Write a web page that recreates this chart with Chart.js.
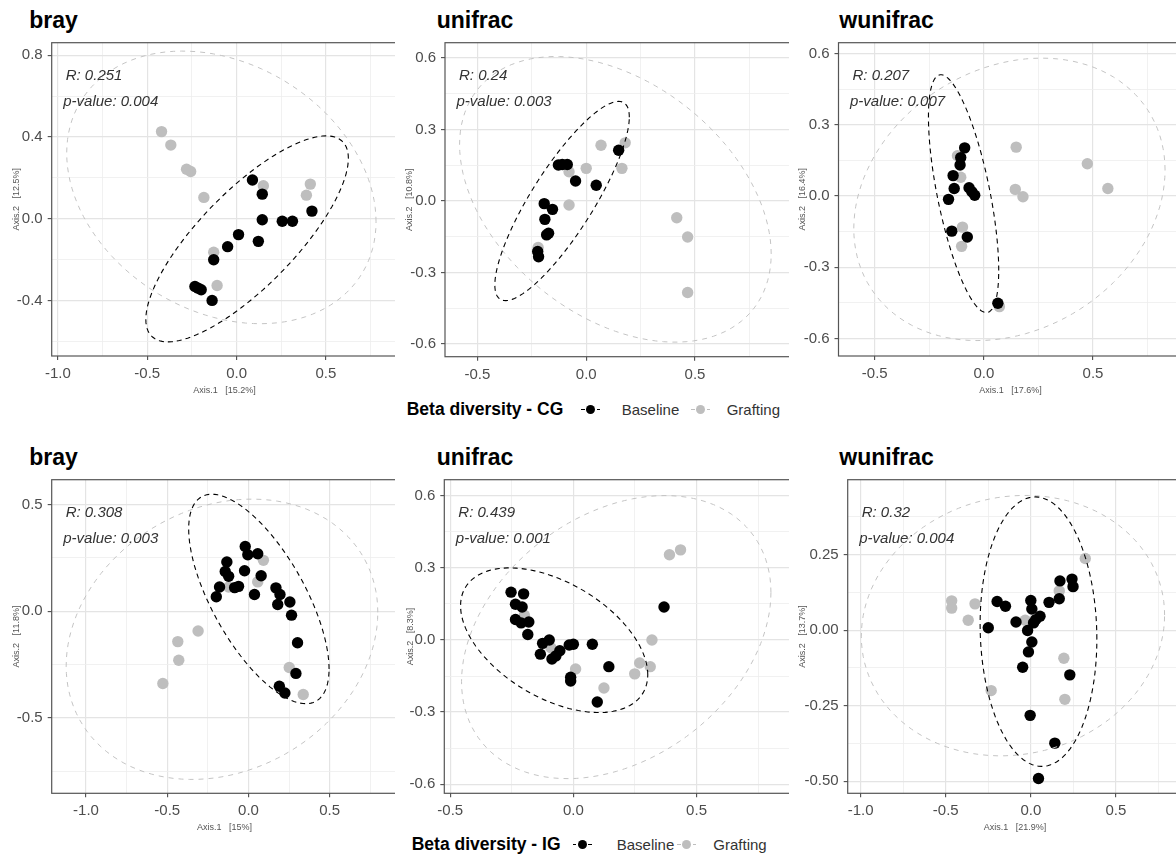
<!DOCTYPE html>
<html>
<head>
<meta charset="utf-8">
<title>Beta diversity</title>
<script src="https://cdn.jsdelivr.net/npm/chart.js@4.4.1/dist/chart.umd.min.js"></script>
<style>
  html, body { margin: 0; padding: 0; background: #fff; }
  body {
    width: 1176px; height: 855px; position: relative; overflow: hidden;
    font-family: "Liberation Sans", Arial, sans-serif;
  }
  .clip { position: absolute; overflow: hidden; }
  .clip canvas { position: absolute; left: 0; top: 0; }
  .txt { position: absolute; white-space: pre; }
  .key { position: absolute; width: 19px; height: 10px; }
  .key .dash { position: absolute; top: 4.4px; height: 1.3px; width: 3.5px; }
  .key .dot { position: absolute; left: 5px; top: 0; width: 9px; height: 9px; border-radius: 50%; }
</style>
</head>
<body>
<script>
// ---- ordination scores (Axis.1, Axis.2) ----
const brayCgBaseline = [[0.089,0.189],[0.144,0.120],[0.144,-0.005],[0.256,-0.013],[0.313,-0.013],[0.422,0.037],[0.011,-0.078],[0.122,-0.111],[-0.050,-0.137],[-0.128,-0.201],[-0.233,-0.332],[-0.198,-0.348],[-0.215,-0.340],[-0.137,-0.400]];
const brayCgGrafting = [[-0.420,0.426],[-0.368,0.360],[-0.280,0.242],[-0.257,0.231],[-0.183,0.104],[0.150,0.161],[0.413,0.169],[0.391,0.115],[-0.128,-0.164],[-0.109,-0.327]];

const unifracCgBaseline = [[0.149,0.213],[-0.128,0.151],[-0.110,0.153],[-0.087,0.153],[-0.049,0.084],[0.046,0.066],[-0.193,-0.011],[-0.155,-0.035],[-0.190,-0.077],[-0.173,-0.135],[-0.182,-0.142],[-0.223,-0.212],[-0.219,-0.234]];
const unifracCgGrafting = [[0.068,0.234],[0.179,0.244],[0.164,0.137],[0.000,0.137],[-0.079,0.123],[-0.079,-0.017],[0.416,-0.070],[0.466,-0.151],[0.466,-0.384],[-0.221,-0.195]];

const wunifracCgBaseline = [[-0.088,0.203],[-0.106,0.162],[-0.109,0.131],[-0.141,0.086],[-0.136,0.032],[-0.162,-0.014],[-0.068,0.035],[-0.042,0.003],[-0.055,0.018],[-0.147,-0.148],[-0.076,-0.173],[0.064,-0.452]];
const wunifracCgGrafting = [[0.148,0.206],[0.474,0.136],[0.568,0.032],[0.144,0.028],[0.179,-0.003],[-0.121,0.170],[-0.106,0.079],[-0.098,-0.131],[-0.102,-0.212],[0.071,-0.466]];

const brayIgBaseline = [[-0.020,0.303],[-0.004,0.264],[0.057,0.269],[-0.133,0.230],[-0.143,0.186],[-0.122,0.163],[-0.024,0.189],[0.078,0.166],[-0.178,0.113],[-0.198,0.067],[-0.061,0.116],[-0.085,0.110],[0.037,0.078],[0.169,0.109],[0.194,0.078],[0.180,0.031],[0.255,0.043],[0.265,-0.019],[0.302,-0.148],[0.292,-0.292],[0.190,-0.352],[0.224,-0.384]];
const brayIgGrafting = [[0.092,0.238],[0.057,0.137],[-0.122,0.113],[-0.310,-0.093],[-0.435,-0.143],[-0.429,-0.230],[-0.527,-0.339],[0.251,-0.264],[0.337,-0.391]];

const unifracIgBaseline = [[-0.253,0.199],[-0.202,0.192],[-0.235,0.149],[-0.208,0.137],[-0.235,0.085],[-0.212,0.071],[-0.181,0.075],[-0.185,0.023],[-0.125,-0.014],[-0.098,0.000],[-0.134,-0.059],[-0.087,-0.079],[-0.071,-0.066],[-0.055,-0.045],[-0.017,-0.021],[0.000,-0.018],[0.077,-0.018],[0.144,-0.111],[-0.011,-0.155],[-0.011,-0.171],[0.097,-0.258],[0.368,0.137]];
const unifracIgGrafting = [[0.390,0.355],[0.435,0.375],[0.319,0.000],[0.269,-0.096],[0.312,-0.111],[0.249,-0.141],[0.124,-0.200],[0.009,-0.121],[-0.091,-0.032],[-0.199,0.103]];

const wunifracIgBaseline = [[0.171,0.163],[0.242,0.169],[0.248,0.144],[-0.198,0.095],[-0.149,0.079],[0.000,0.098],[0.006,0.070],[0.054,0.046],[0.029,0.035],[0.107,0.092],[0.167,0.104],[-0.087,0.027],[0.016,0.024],[-0.250,0.008],[-0.019,-0.001],[0.006,-0.039],[-0.014,-0.072],[-0.048,-0.123],[0.229,-0.148],[-0.004,-0.282],[0.141,-0.374],[0.045,-0.491]];
const wunifracIgGrafting = [[0.320,0.237],[0.167,0.130],[-0.465,0.097],[-0.465,0.073],[-0.328,0.087],[-0.368,0.033],[-0.033,0.033],[0.194,-0.093],[0.200,-0.229],[-0.233,-0.200]];

// ---- group ellipses: [centre x, centre y, half width, half height, x offset of top point] ----
const brayCgEllipses = { base: [0.059,-0.099,0.567,0.504,0.443], graft: [-0.085,0.153,0.866,0.667,-0.218] };
const unifracCgEllipses = { base: [-0.111,0.000,0.309,0.418,0.260], graft: [0.134,0.007,0.716,0.599,-0.274] };
const wunifracCgEllipses = { base: [-0.093,0.010,0.161,0.501,-0.104], graft: [0.117,-0.014,0.713,0.595,0.148] };
const brayIgEllipses = { base: [0.064,0.057,0.432,0.491,-0.289], graft: [-0.163,-0.132,0.959,0.657,0.184] };
const unifracIgEllipses = { base: [-0.078,-0.001,0.380,0.301,-0.181], graft: [0.174,0.012,0.628,0.589,0.198] };
const wunifracIgEllipses = { base: [0.045,-0.005,0.343,0.446,-0.019], graft: [-0.105,0.015,0.891,0.431,0.072] };

// ---- ANOSIM results ----
const statsR = ['0.251', '0.24', '0.207', '0.308', '0.439', '0.32'];
const statsP = ['0.004', '0.003', '0.007', '0.003', '0.001', '0.004'];

// ---- axis tick labels ----
const ticksX1 = ['-1.0', '-0.5', '0.0', '0.5'];
const ticksX2 = ['-0.5', '0.0', '0.5'];
const ticksYBrayCg = ['-0.4', '0.0', '0.4', '0.8'];
const ticksYUnifrac = ['-0.6', '-0.3', '0.0', '0.3', '0.6'];
const ticksYBrayIg = ['-0.5', '0.0', '0.5'];
const ticksYWunifracIg = ['-0.50', '-0.25', '0.00', '0.25'];

const BLACK = '#000000';
const GREY = '#bebebe';
const FONT = '"Liberation Sans", Arial, sans-serif';

// panel layout in page pixels
const panels = [
  { title: 'bray', base: brayCgBaseline, graft: brayCgGrafting, ell: brayCgEllipses, stat: 0,
    xTicks: ticksX1, yTicks: ticksYBrayCg, x: [-1.035, 0.9], y: [-0.672, 0.861],
    xTitle: 'Axis.1   [15.2%]', yTitle: 'Axis.2   [12.5%]',
    box: { l: 51.7, t: 40.7, r: 400, b: 356 }, clipR: 395, yTitleX: 16.7, titleX: 29.3, titleY: 28.8 },
  { title: 'unifrac', base: unifracCgBaseline, graft: unifracCgGrafting, ell: unifracCgEllipses, stat: 1,
    xTicks: ticksX2, yTicks: ticksYUnifrac, x: [-0.649, 0.97], y: [-0.653, 0.664],
    xTitle: null, yTitle: 'Axis.2   [10.8%]',
    box: { l: 445, t: 40.7, r: 800, b: 356.7 }, clipR: 789, yTitleX: 409.2, titleX: 436.7, titleY: 28.8 },
  { title: 'wunifrac', base: wunifracCgBaseline, graft: wunifracCgGrafting, ell: wunifracCgEllipses, stat: 2,
    xTicks: ticksX2, yTicks: ticksYUnifrac, x: [-0.666, 0.909], y: [-0.674, 0.646],
    xTitle: 'Axis.1   [17.6%]', yTitle: 'Axis.2   [16.4%]',
    box: { l: 838.5, t: 40.7, r: 1185, b: 356 }, clipR: 1176, yTitleX: 802.5, titleX: 839.3, titleY: 28.8 },
  { title: 'bray', base: brayIgBaseline, graft: brayIgGrafting, ell: brayIgEllipses, stat: 3,
    xTicks: ticksX1, yTicks: ticksYBrayIg, x: [-1.211, 0.916], y: [-0.854, 0.616],
    xTitle: 'Axis.1   [15%]', yTitle: 'Axis.2   [11.8%]',
    box: { l: 51.7, t: 477.7, r: 400, b: 793.3 }, clipR: 395, yTitleX: 16.7, titleX: 29.3, titleY: 465 },
  { title: 'unifrac', base: unifracIgBaseline, graft: unifracIgGrafting, ell: unifracIgEllipses, stat: 4,
    xTicks: ticksX2, yTicks: ticksYUnifrac, x: [-0.524, 0.909], y: [-0.638, 0.667],
    xTitle: null, yTitle: 'Axis.2   [8.3%]',
    box: { l: 444.3, t: 477.7, r: 800, b: 793.3 }, clipR: 789, yTitleX: 410.3, titleX: 436.7, titleY: 465 },
  { title: 'wunifrac', base: wunifracIgBaseline, graft: wunifracIgGrafting, ell: wunifracIgEllipses, stat: 5,
    xTicks: ticksX1, yTicks: ticksYWunifracIg, x: [-1.076, 0.89], y: [-0.540, 0.498],
    xTitle: 'Axis.1   [21.9%]', yTitle: 'Axis.2   [13.7%]',
    box: { l: 847.7, t: 477.7, r: 1185, b: 793.3 }, clipR: 1176, yTitleX: 802.8, titleX: 839.3, titleY: 465 }
];

// text placed by its baseline (line-height equal to font size)
function addText(str, x, baseline, size, opts = {}) {
  const d = document.createElement('div');
  d.className = 'txt';
  d.textContent = str;
  d.style.left = x + 'px';
  d.style.top = (baseline - 0.8465 * size) + 'px';
  d.style.fontSize = size + 'px';
  d.style.lineHeight = size + 'px';
  d.style.fontWeight = opts.bold ? 'bold' : 'normal';
  d.style.color = opts.color || '#000';
  document.body.appendChild(d);
}

function addKey(cx, cy, color) {
  const k = document.createElement('div');
  k.className = 'key';
  k.style.left = (cx - 9.5) + 'px';
  k.style.top = (cy - 4.5) + 'px';
  k.innerHTML = '<div class="dash" style="left:0"></div><div class="dot"></div><div class="dash" style="left:15.5px"></div>';
  k.querySelectorAll('.dash').forEach(e => e.style.background = color);
  k.querySelector('.dot').style.background = color;
  document.body.appendChild(k);
}

// ellipse outline in data units
function ellipsePoints(p) {
  const [cx, cy, w, h, k] = p;
  const uy = k * h / w;
  const vy = h * Math.sqrt(Math.max(0, 1 - (k / w) * (k / w)));
  const pts = [];
  for (let i = 0; i <= 120; i++) {
    const t = i / 120 * Math.PI * 2;
    pts.push({ x: cx + w * Math.cos(t), y: cy + uy * Math.cos(t) + vy * Math.sin(t) });
  }
  return pts;
}

// majors from the labels plus minor lines half way between them
function tickValues(labels, min, max) {
  const majors = labels.map(parseFloat);
  const half = (majors[1] - majors[0]) / 2;
  let v = majors[0];
  while (v - half >= min - 1e-9) v -= half;
  const out = [];
  for (; v <= max + 1e-9; v += half) out.push(Math.round(v * 1e6) / 1e6);
  return out;
}

function isMajor(labels, value) {
  return labels.some(l => Math.abs(parseFloat(l) - value) < 1e-6);
}

function labelFor(labels, value) {
  const l = labels.find(s => Math.abs(parseFloat(s) - value) < 1e-6);
  return l === undefined ? '' : l;
}

function gridOpts(labels) {
  return {
    color: c => isMajor(labels, c.tick.value) ? '#e4e4e4' : '#eeeeee',
    lineWidth: c => isMajor(labels, c.tick.value) ? 1.2 : 0.8,
    tickColor: c => isMajor(labels, c.tick.value) ? '#4d4d4d' : 'rgba(0,0,0,0)',
    tickLength: 4,
    tickWidth: 1.1,
    drawTicks: true
  };
}

panels.forEach((p, i) => {
  const canvasLeft = Math.floor(p.yTitleX - 5.4);
  const canvasTop = Math.floor(p.box.t) - 3;
  const padTop = p.box.t - canvasTop;
  const yWidth = p.box.l - canvasLeft;
  const width = Math.ceil(p.box.r + 3 - canvasLeft);
  const height = Math.round(p.box.b - canvasTop + 40);
  const xHeight = height - (p.box.b - canvasTop);

  const wrap = document.createElement('div');
  wrap.className = 'clip';
  wrap.style.left = canvasLeft + 'px';
  wrap.style.top = canvasTop + 'px';
  wrap.style.width = (p.clipR - canvasLeft) + 'px';
  wrap.style.height = height + 'px';
  const canvas = document.createElement('canvas');
  canvas.width = width;
  canvas.height = height;
  wrap.appendChild(canvas);
  document.body.appendChild(wrap);

  addText(p.title, p.titleX, p.titleY, 23, { bold: true });

  const frame = {
    id: 'frame' + i,
    afterDraw(chart) {
      const a = chart.chartArea;
      const ctx = chart.ctx;
      ctx.save();
      ctx.strokeStyle = '#555555';
      ctx.lineWidth = 1.2;
      ctx.strokeRect(a.left, a.top, a.right - a.left, a.bottom - a.top);
      ctx.font = 'italic 15px ' + FONT;
      ctx.fillStyle = '#333333';
      ctx.textBaseline = 'alphabetic';
      ctx.fillText('R: ' + statsR[p.stat], a.left + 14, a.top + 37);
      ctx.fillText('p-value: ' + statsP[p.stat], a.left + 11.5, a.top + 63.3);
      ctx.restore();
    }
  };

  const xTickVals = tickValues(p.xTicks, p.x[0], p.x[1]);
  const yTickVals = tickValues(p.yTicks, p.y[0], p.y[1]);
  const toXY = arr => arr.map(d => ({ x: d[0], y: d[1] }));

  new Chart(canvas, {
    type: 'scatter',
    data: {
      datasets: [
        { data: ellipsePoints(p.ell.base), showLine: true, pointRadius: 0, borderColor: BLACK,
          borderWidth: 1.1, borderDash: [5, 4], fill: false },
        { data: ellipsePoints(p.ell.graft), showLine: true, pointRadius: 0, borderColor: '#c4c4c4',
          borderWidth: 1, borderDash: [5, 5], fill: false },
        { data: toXY(p.base), pointRadius: 5.7, backgroundColor: BLACK, borderWidth: 0 },
        { data: toXY(p.graft), pointRadius: 5.7, backgroundColor: GREY, borderWidth: 0 }
      ]
    },
    options: {
      responsive: false,
      animation: false,
      events: [],
      layout: { padding: { top: padTop, right: 3, left: 0, bottom: 0 } },
      plugins: { legend: { display: false }, tooltip: { enabled: false } },
      scales: {
        x: {
          type: 'linear', position: 'bottom', min: p.x[0], max: p.x[1],
          afterBuildTicks: s => { s.ticks = xTickVals.map(v => ({ value: v })); },
          afterFit: s => { s.height = xHeight; s.paddingLeft = 0; s.paddingRight = 0; },
          ticks: { callback: v => labelFor(p.xTicks, v), autoSkip: false, maxRotation: 0,
                   padding: 5, color: '#4d4d4d', font: { family: FONT, size: 15 } },
          grid: gridOpts(p.xTicks),
          border: { display: false },
          title: { display: !!p.xTitle, text: p.xTitle || '', color: '#555555',
                   font: { family: FONT, size: 9 }, padding: { top: 0, bottom: 0 } }
        },
        y: {
          type: 'linear', position: 'left', min: p.y[0], max: p.y[1],
          afterBuildTicks: s => { s.ticks = yTickVals.map(v => ({ value: v })); },
          afterFit: s => { s.width = yWidth; s.paddingTop = 0; s.paddingBottom = 0; },
          ticks: { callback: v => labelFor(p.yTicks, v), autoSkip: false,
                   padding: 5, color: '#4d4d4d', font: { family: FONT, size: 15 } },
          grid: gridOpts(p.yTicks),
          border: { display: false },
          title: { display: true, text: p.yTitle, color: '#555555',
                   font: { family: FONT, size: 9 },
                   padding: { top: p.yTitleX - canvasLeft - 5.4, bottom: 0 } }
        }
      }
    },
    plugins: [frame]
  });
});

// group legends under the middle panels
addText('Beta diversity - CG', 406.7, 415.7, 17.5, { bold: true });
addKey(590.7, 409, BLACK);
addText('Baseline', 621.7, 415, 15, { color: '#333333' });
addKey(700.5, 409, GREY);
addText('Grafting', 726.7, 415, 15, { color: '#333333' });

addText('Beta diversity - IG', 411.7, 850.7, 17.5, { bold: true });
addKey(582.3, 844, BLACK);
addText('Baseline', 616.7, 850, 15, { color: '#333333' });
addKey(686.7, 844, GREY);
addText('Grafting', 713.3, 850, 15, { color: '#333333' });
</script>
</body>
</html>
